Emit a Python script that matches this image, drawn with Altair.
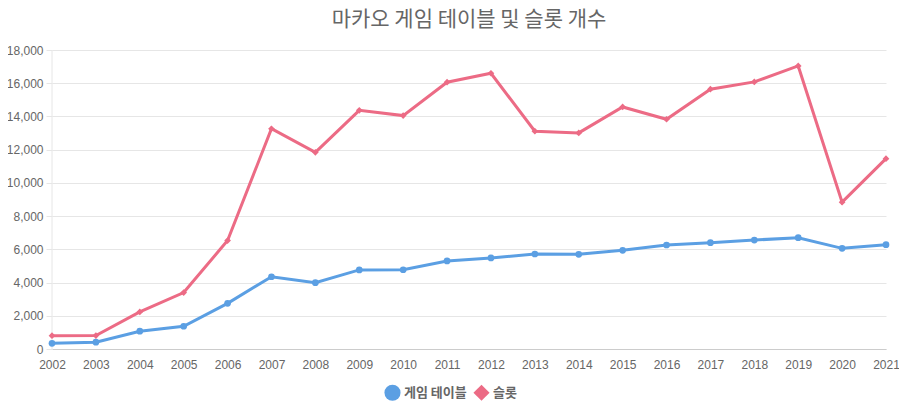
import altair as alt
import pandas as pd

years = [str(y) for y in range(2002, 2022)]
tables = [340, 410, 1070, 1370, 2750, 4350, 3990, 4760, 4770, 5300,
          5480, 5720, 5700, 5940, 6260, 6400, 6560, 6700, 6060, 6280]
slots = [800, 810, 2230, 3400, 6530, 13260, 11840, 14370, 14050, 16060,
         16600, 13110, 13010, 14570, 13830, 15640, 16080, 17040, 8840, 11460]
series_names = ["게임 테이블", "슬롯"]
colors = ["#5B9FE3", "#EC6B85"]

rows = []
for y, t, s in zip(years, tables, slots):
    rows.append({"year": y, "value": t, "series": series_names[0]})
    rows.append({"year": y, "value": s, "series": series_names[1]})
df = pd.DataFrame(rows)

font = "Liberation Sans, Noto Sans CJK KR, sans-serif"

x = alt.X("year:O", title=None, sort=years,
          scale=alt.Scale(padding=0),
          axis=alt.Axis(labelAngle=0, ticks=False, labelPadding=10, grid=False,
                        domainColor="#cccccc", labelColor="#666666",
                        labelFont=font, labelFontSize=12))
y = alt.Y("value:Q", title=None,
          scale=alt.Scale(domain=[0, 18000], nice=False),
          axis=alt.Axis(values=list(range(0, 18001, 2000)), format=",d",
                        domain=False, tickSize=6, tickColor="#e6e6e6",
                        gridColor="#e6e6e6", labelColor="#666666",
                        labelFont=font, labelFontSize=12, labelPadding=3))
color = alt.Color("series:N", sort=series_names,
                  scale=alt.Scale(domain=series_names, range=colors),
                  legend=alt.Legend(title=None, orient="none", direction="horizontal",
                                    legendX=332, legendY=334,
                                    symbolSize=260, symbolStrokeWidth=0,
                                    labelFont="Noto Sans CJK KR", labelFontSize=13,
                                    labelFontWeight="bold", labelColor="#666666",
                                    columnPadding=6, labelOffset=3))
shape = alt.Shape("series:N", sort=series_names,
                  scale=alt.Scale(domain=series_names, range=["circle", "diamond"]),
                  legend=None)

base = alt.Chart(df)
lines = base.mark_line(strokeWidth=3).encode(x=x, y=y, color=color)
points = base.mark_point(filled=True, size=45, opacity=1).encode(
    x=x, y=y, color=color, shape=shape)

left_edge = alt.Chart(pd.DataFrame({"v": [0]})).mark_rule(color="#e6e6e6").encode(
    x=alt.value(0), y=alt.value(0), y2=alt.value(299))

chart = alt.layer(left_edge, lines, points).properties(
    width=834, height=299,
    title=alt.TitleParams("마카오 게임 테이블 및 슬롯 개수", font="Noto Sans CJK KR",
                          fontSize=21, fontWeight="normal", color="#666666",
                          anchor="middle", offset=14),
    autosize=alt.AutoSizeParams(type="none"),
    padding={"left": 44, "top": 42, "right": 13, "bottom": 52},
).configure_view(stroke=None)

chart.save("out.html", embed_options={"renderer": "svg", "actions": False})
